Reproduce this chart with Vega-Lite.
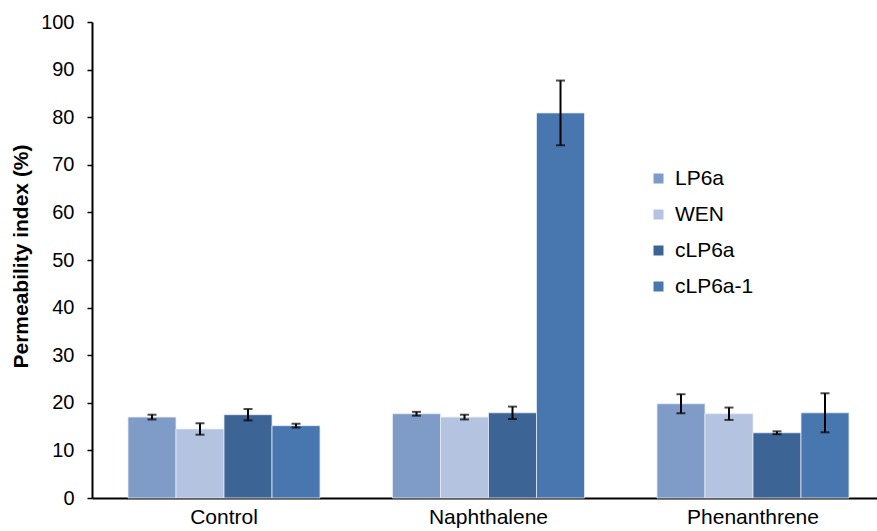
{
  "$schema": "https://vega.github.io/schema/vega-lite/v6.json",
  "width": 785,
  "height": 476,
  "autosize": {"type": "none"},
  "padding": {"left": 92, "top": 22, "right": 0, "bottom": 33},
  "background": "white",
  "config": {
    "view": {"stroke": null},
    "font": "Liberation Sans"
  },
  "data": {
    "values": [
      {"group": "Control", "series": "LP6a", "value": 17.0, "err": 0.5},
      {"group": "Control", "series": "WEN", "value": 14.5, "err": 1.2},
      {"group": "Control", "series": "cLP6a", "value": 17.5, "err": 1.2},
      {"group": "Control", "series": "cLP6a-1", "value": 15.2, "err": 0.4},
      {"group": "Naphthalene", "series": "LP6a", "value": 17.7, "err": 0.4},
      {"group": "Naphthalene", "series": "WEN", "value": 17.0, "err": 0.5},
      {"group": "Naphthalene", "series": "cLP6a", "value": 17.9, "err": 1.3},
      {"group": "Naphthalene", "series": "cLP6a-1", "value": 80.9, "err": 6.8},
      {"group": "Phenanthrene", "series": "LP6a", "value": 19.8, "err": 2.0},
      {"group": "Phenanthrene", "series": "WEN", "value": 17.7, "err": 1.3},
      {"group": "Phenanthrene", "series": "cLP6a", "value": 13.7, "err": 0.3},
      {"group": "Phenanthrene", "series": "cLP6a-1", "value": 17.9, "err": 4.1}
    ]
  },
  "encoding": {
    "x": {
      "field": "group",
      "type": "nominal",
      "sort": ["Control", "Naphthalene", "Phenanthrene"],
      "scale": {"paddingInner": 0.274, "paddingOuter": 0.121, "align": 0.5625},
      "axis": {
        "title": null,
        "labelAngle": 0,
        "labelFontSize": 21,
        "labelColor": "#000000",
        "labelPadding": 8,
        "ticks": false,
        "domainColor": "#000000",
        "domainWidth": 2
      }
    },
    "xOffset": {
      "field": "series",
      "type": "nominal",
      "sort": ["LP6a", "WEN", "cLP6a", "cLP6a-1"],
      "scale": {"paddingInner": 0, "paddingOuter": 0}
    }
  },
  "layer": [
    {
      "mark": {"type": "bar", "stroke": "#e6ecf5", "strokeWidth": 0.8},
      "encoding": {
        "y": {
          "field": "value",
          "type": "quantitative",
          "title": "Permeability index (%)",
          "scale": {"domain": [0, 100], "nice": false},
          "axis": {
            "title": "Permeability index (%)",
            "titleFontSize": 21,
            "titleFontWeight": "bold",
            "titleColor": "#000000",
            "titleX": -71,
            "titleY": 234,
            "titleAngle": -90,
            "titleAlign": "center",
            "titleBaseline": "middle",
            "values": [0, 10, 20, 30, 40, 50, 60, 70, 80, 90, 100],
            "labelFontSize": 20,
            "labelColor": "#000000",
            "labelPadding": 13,
            "tickSize": 5,
            "tickColor": "#000000",
            "tickWidth": 1.5,
            "domainColor": "#000000",
            "domainWidth": 2,
            "grid": false
          }
        },
        "color": {
          "field": "series",
          "type": "nominal",
          "sort": ["LP6a", "WEN", "cLP6a", "cLP6a-1"],
          "scale": {
            "domain": ["LP6a", "WEN", "cLP6a", "cLP6a-1"],
            "range": ["#7F9BC8", "#B4C3DF", "#3C6495", "#4877B0"]
          },
          "legend": {
            "title": null,
            "orient": "none",
            "legendX": 556,
            "legendY": 146,
            "symbolType": "square",
            "symbolSize": 100,
            "symbolStrokeWidth": 0,
            "labelFontSize": 21,
            "labelColor": "#000000",
            "labelOffset": 6,
            "rowPadding": 14
          }
        }
      }
    },
    {
      "mark": {
        "type": "errorbar",
        "ticks": {"size": 9, "thickness": 2, "color": "#000000"},
        "rule": {"strokeWidth": 2, "color": "#000000"}
      },
      "encoding": {
        "y": {"field": "value", "type": "quantitative", "title": "Permeability index (%)"},
        "yError": {"field": "err"}
      }
    }
  ]
}
